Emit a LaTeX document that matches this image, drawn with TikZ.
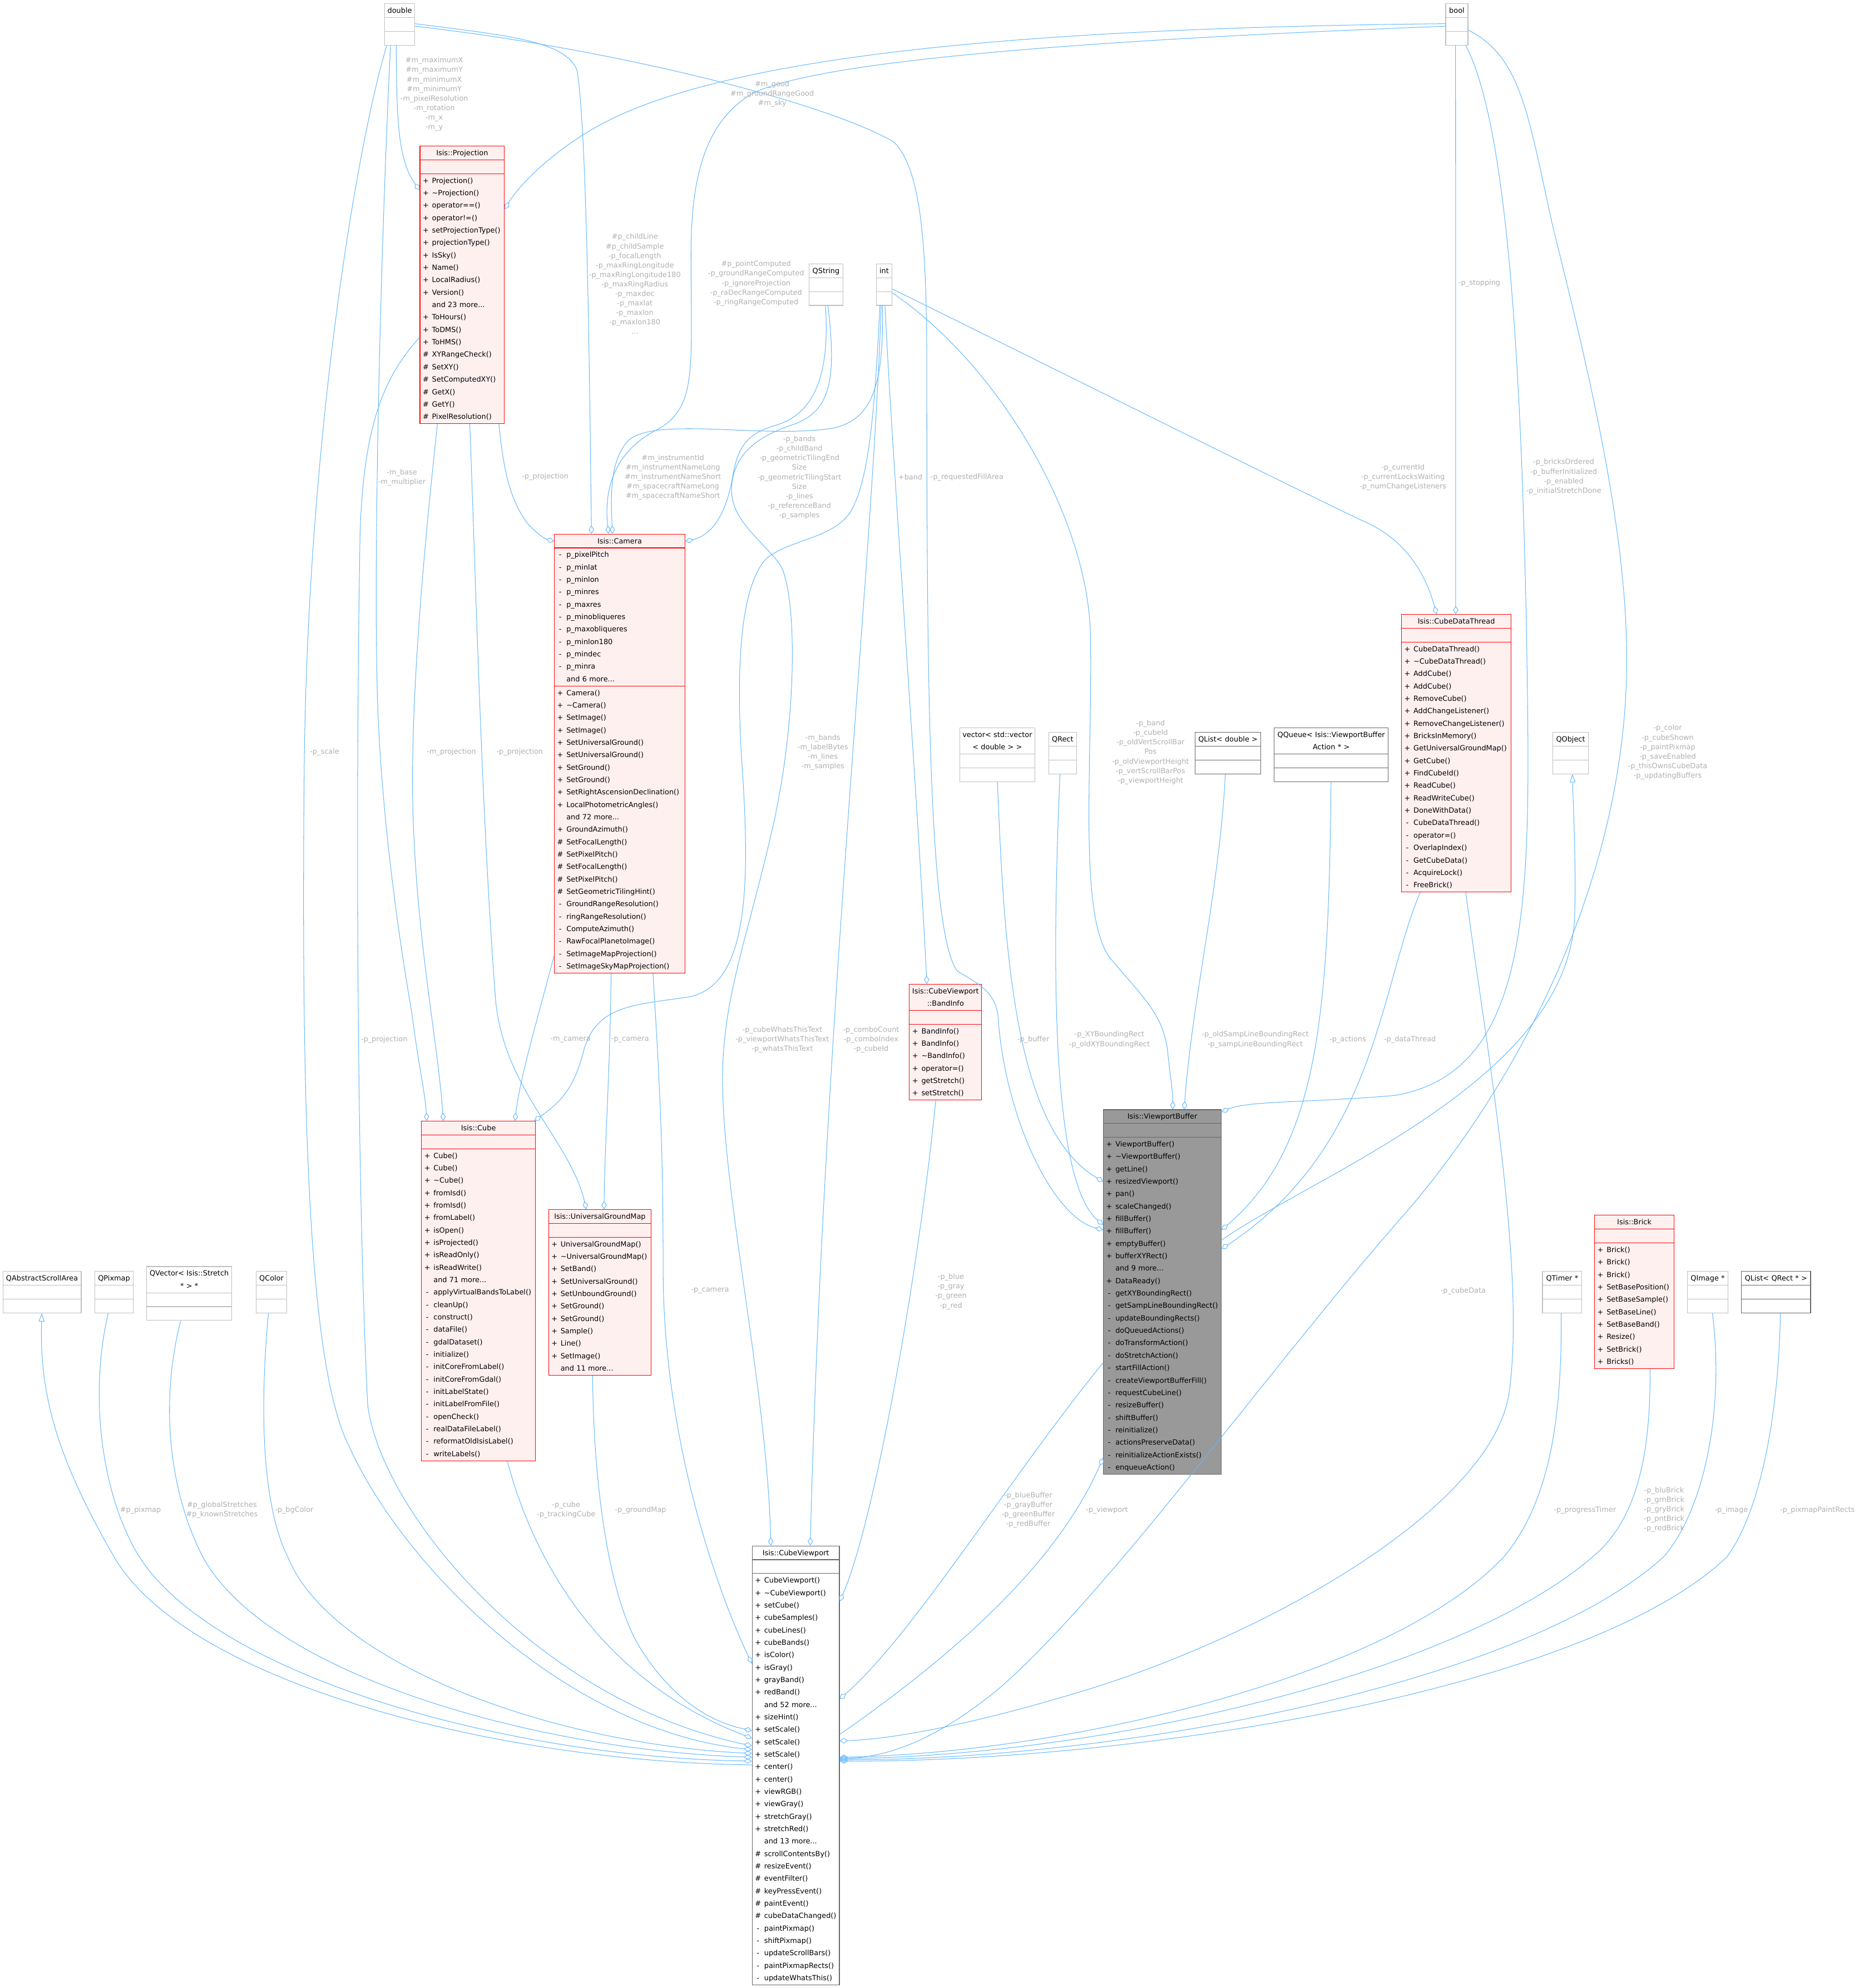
\documentclass[tikz,border=0pt]{standalone}
\usepackage{fontspec}
\setmainfont{DejaVu Sans}
\usetikzlibrary{shapes.multipart,arrows.meta,calc}

\definecolor{edgeblue}{HTML}{63B8FF}
\definecolor{labelgray}{HTML}{B0B0B0}
\definecolor{boxred}{HTML}{FF0000}
\definecolor{boxpink}{HTML}{FFF0F0}
\definecolor{focusfill}{HTML}{999999}
\definecolor{darkline}{HTML}{666666}
\definecolor{lightline}{HTML}{BFBFBF}

% one member line: visibility column, then the name
\newcommand{\umlrow}[2]{\strut\makebox[7.2pt][l]{\makebox[4.6pt]{#1}}#2}
% centred title line
\newcommand{\umltitle}[1]{\makebox[\linewidth]{\strut#1}}

\begin{document}
\begin{tikzpicture}[x=1pt, y=-1pt,
  umlbox/.style={rectangle split, rectangle split parts=3, draw, line width=0.5pt,
    align=left, inner xsep=2.3pt, inner ysep=0.3pt, anchor=north west,
    font=\fontsize{5.65}{9.8}\selectfont},
  cls/.style={umlbox, draw=boxred, fill=boxpink},
  focus/.style={umlbox, draw=darkline, fill=focusfill},
  plain/.style={umlbox, draw=lightline, fill=white},
  docd/.style={umlbox, draw=darkline, fill=white},
  agg/.style={draw=edgeblue, line width=0.45pt, -{Diamond[open, length=6.5pt, width=4.2pt]}},
  inh/.style={draw=edgeblue, line width=0.45pt, -{Triangle[open, length=6.5pt, width=4.6pt]}},
  elabel/.style={font=\fontsize{5.65}{7.5}\selectfont, text=labelgray, align=center, inner sep=0pt}
]
\useasboundingbox (0,0) rectangle (1466,1568);
\fill[white] (0,0) rectangle (1466,1568);

% plain types
\node[plain, text width=19.4pt] (double) at (303,2.7) {\umltitle{double}\nodepart{two}\strut\nodepart{three}\strut};
\node[plain, text width=12.9pt] (bool) at (1140,2.7) {\umltitle{bool}\nodepart{two}\strut\nodepart{three}\strut};
\node[plain, text width=21.9pt] (qstring) at (638,207.9) {\umltitle{QString}\nodepart{two}\strut\nodepart{three}\strut};
\node[plain, text width=7.6pt] (int) at (691,207.9) {\umltitle{int}\nodepart{two}\strut\nodepart{three}\strut};
\node[plain, text width=54.7pt] (vecvec) at (756.7,573.8) {\umltitle{vector<~std::vector}\\\umltitle{<~double~>~>}\nodepart{two}\strut\nodepart{three}\strut};
\node[plain, text width=17.1pt] (qrect) at (827,577.4) {\umltitle{QRect}\nodepart{two}\strut\nodepart{three}\strut};
\node[docd, text width=47.2pt] (qlistd) at (942.4,577.4) {\umltitle{QList<~double~>}\nodepart{two}\strut\nodepart{three}\strut};
\node[docd, text width=85.2pt] (qqueue) at (1004.8,573.8) {\umltitle{QQueue<~Isis::ViewportBuffer}\\\umltitle{Action~*~>}\nodepart{two}\strut\nodepart{three}\strut};
\node[plain, text width=23.2pt] (qobject) at (1224.6,577.4) {\umltitle{QObject}\nodepart{two}\strut\nodepart{three}\strut};
\node[plain, text width=57.2pt] (scrollarea) at (2,1002.6) {\umltitle{QAbstractScrollArea}\nodepart{two}\strut\nodepart{three}\strut};
\node[plain, text width=26pt] (qpixmap) at (74.4,1002.6) {\umltitle{QPixmap}\nodepart{two}\strut\nodepart{three}\strut};
\node[plain, text width=62.4pt] (qvector) at (115.5,998.7) {\umltitle{QVector<~Isis::Stretch}\\\umltitle{*~>~*}\nodepart{two}\strut\nodepart{three}\strut};
\node[plain, text width=19.7pt] (qcolor) at (201.7,1002.6) {\umltitle{QColor}\nodepart{two}\strut\nodepart{three}\strut};
\node[plain, text width=26.5pt] (qtimer) at (1216.3,1002.6) {\umltitle{QTimer~*}\nodepart{two}\strut\nodepart{three}\strut};
\node[plain, text width=27.5pt] (qimage) at (1330.6,1002.6) {\umltitle{QImage~*}\nodepart{two}\strut\nodepart{three}\strut};
\node[docd, text width=50pt] (qlistrect) at (1373.2,1002.6) {\umltitle{QList<~QRect~*~>}\nodepart{two}\strut\nodepart{three}\strut};

% classes
\node[cls, text width=62pt] (proj) at (331,115) {\umltitle{Isis::Projection}
  \nodepart{two}\strut
  \nodepart{three}\umlrow{+}{Projection()}\\
  \umlrow{+}{\textasciitilde Projection()}\\
  \umlrow{+}{operator==()}\\
  \umlrow{+}{operator!=()}\\
  \umlrow{+}{setProjectionType()}\\
  \umlrow{+}{projectionType()}\\
  \umlrow{+}{IsSky()}\\
  \umlrow{+}{Name()}\\
  \umlrow{+}{LocalRadius()}\\
  \umlrow{+}{Version()}\\
  \umlrow{}{and 23 more...}\\
  \umlrow{+}{ToHours()}\\
  \umlrow{+}{ToDMS()}\\
  \umlrow{+}{ToHMS()}\\
  \umlrow{\#}{XYRangeCheck()}\\
  \umlrow{\#}{SetXY()}\\
  \umlrow{\#}{SetComputedXY()}\\
  \umlrow{\#}{GetX()}\\
  \umlrow{\#}{GetY()}\\
  \umlrow{\#}{PixelResolution()}};

\node[cls, text width=98.4pt] (camera) at (437,421) {\umltitle{Isis::Camera}
  \nodepart{two}\umlrow{-}{p\_pixelPitch}\\
  \umlrow{-}{p\_minlat}\\
  \umlrow{-}{p\_minlon}\\
  \umlrow{-}{p\_minres}\\
  \umlrow{-}{p\_maxres}\\
  \umlrow{-}{p\_minobliqueres}\\
  \umlrow{-}{p\_maxobliqueres}\\
  \umlrow{-}{p\_minlon180}\\
  \umlrow{-}{p\_mindec}\\
  \umlrow{-}{p\_minra}\\
  \umlrow{}{and 6 more...}
  \nodepart{three}\umlrow{+}{Camera()}\\
  \umlrow{+}{\textasciitilde Camera()}\\
  \umlrow{+}{SetImage()}\\
  \umlrow{+}{SetImage()}\\
  \umlrow{+}{SetUniversalGround()}\\
  \umlrow{+}{SetUniversalGround()}\\
  \umlrow{+}{SetGround()}\\
  \umlrow{+}{SetGround()}\\
  \umlrow{+}{SetRightAscensionDeclination()}\\
  \umlrow{+}{LocalPhotometricAngles()}\\
  \umlrow{}{and 72 more...}\\
  \umlrow{+}{GroundAzimuth()}\\
  \umlrow{\#}{SetFocalLength()}\\
  \umlrow{\#}{SetPixelPitch()}\\
  \umlrow{\#}{SetFocalLength()}\\
  \umlrow{\#}{SetPixelPitch()}\\
  \umlrow{\#}{SetGeometricTilingHint()}\\
  \umlrow{-}{GroundRangeResolution()}\\
  \umlrow{-}{ringRangeResolution()}\\
  \umlrow{-}{ComputeAzimuth()}\\
  \umlrow{-}{RawFocalPlanetoImage()}\\
  \umlrow{-}{SetImageMapProjection()}\\
  \umlrow{-}{SetImageSkyMapProjection()}};

\node[cls, text width=82pt] (datathread) at (1105.1,484.4) {\umltitle{Isis::CubeDataThread}
  \nodepart{two}\strut
  \nodepart{three}\umlrow{+}{CubeDataThread()}\\
  \umlrow{+}{\textasciitilde CubeDataThread()}\\
  \umlrow{+}{AddCube()}\\
  \umlrow{+}{AddCube()}\\
  \umlrow{+}{RemoveCube()}\\
  \umlrow{+}{AddChangeListener()}\\
  \umlrow{+}{RemoveChangeListener()}\\
  \umlrow{+}{BricksInMemory()}\\
  \umlrow{+}{GetUniversalGroundMap()}\\
  \umlrow{+}{GetCube()}\\
  \umlrow{+}{FindCubeId()}\\
  \umlrow{+}{ReadCube()}\\
  \umlrow{+}{ReadWriteCube()}\\
  \umlrow{+}{DoneWithData()}\\
  \umlrow{-}{CubeDataThread()}\\
  \umlrow{-}{operator=()}\\
  \umlrow{-}{OverlapIndex()}\\
  \umlrow{-}{GetCubeData()}\\
  \umlrow{-}{AcquireLock()}\\
  \umlrow{-}{FreeBrick()}};

\node[cls, text width=52.4pt] (bandinfo) at (717,776) {\umltitle{Isis::CubeViewport}\\\umltitle{::BandInfo}
  \nodepart{two}\strut
  \nodepart{three}\umlrow{+}{BandInfo()}\\
  \umlrow{+}{BandInfo()}\\
  \umlrow{+}{\textasciitilde BandInfo()}\\
  \umlrow{+}{operator=()}\\
  \umlrow{+}{getStretch()}\\
  \umlrow{+}{setStretch()}};

\node[focus, text width=88.4pt] (vpbuffer) at (870,875) {\umltitle{Isis::ViewportBuffer}
  \nodepart{two}\strut
  \nodepart{three}\umlrow{+}{ViewportBuffer()}\\
  \umlrow{+}{\textasciitilde ViewportBuffer()}\\
  \umlrow{+}{getLine()}\\
  \umlrow{+}{resizedViewport()}\\
  \umlrow{+}{pan()}\\
  \umlrow{+}{scaleChanged()}\\
  \umlrow{+}{fillBuffer()}\\
  \umlrow{+}{fillBuffer()}\\
  \umlrow{+}{emptyBuffer()}\\
  \umlrow{+}{bufferXYRect()}\\
  \umlrow{}{and 9 more...}\\
  \umlrow{+}{DataReady()}\\
  \umlrow{-}{getXYBoundingRect()}\\
  \umlrow{-}{getSampLineBoundingRect()}\\
  \umlrow{-}{updateBoundingRects()}\\
  \umlrow{-}{doQueuedActions()}\\
  \umlrow{-}{doTransformAction()}\\
  \umlrow{-}{doStretchAction()}\\
  \umlrow{-}{startFillAction()}\\
  \umlrow{-}{createViewportBufferFill()}\\
  \umlrow{-}{requestCubeLine()}\\
  \umlrow{-}{resizeBuffer()}\\
  \umlrow{-}{shiftBuffer()}\\
  \umlrow{-}{reinitialize()}\\
  \umlrow{-}{actionsPreserveData()}\\
  \umlrow{-}{reinitializeActionExists()}\\
  \umlrow{-}{enqueueAction()}};

\node[cls, text width=85.2pt] (cube) at (332.2,884) {\umltitle{Isis::Cube}
  \nodepart{two}\strut
  \nodepart{three}\umlrow{+}{Cube()}\\
  \umlrow{+}{Cube()}\\
  \umlrow{+}{\textasciitilde Cube()}\\
  \umlrow{+}{fromIsd()}\\
  \umlrow{+}{fromIsd()}\\
  \umlrow{+}{fromLabel()}\\
  \umlrow{+}{isOpen()}\\
  \umlrow{+}{isProjected()}\\
  \umlrow{+}{isReadOnly()}\\
  \umlrow{+}{isReadWrite()}\\
  \umlrow{}{and 71 more...}\\
  \umlrow{-}{applyVirtualBandsToLabel()}\\
  \umlrow{-}{cleanUp()}\\
  \umlrow{-}{construct()}\\
  \umlrow{-}{dataFile()}\\
  \umlrow{-}{gdalDataset()}\\
  \umlrow{-}{initialize()}\\
  \umlrow{-}{initCoreFromLabel()}\\
  \umlrow{-}{initCoreFromGdal()}\\
  \umlrow{-}{initLabelState()}\\
  \umlrow{-}{initLabelFromFile()}\\
  \umlrow{-}{openCheck()}\\
  \umlrow{-}{realDataFileLabel()}\\
  \umlrow{-}{reformatOldIsisLabel()}\\
  \umlrow{-}{writeLabels()}};

\node[cls, text width=76.4pt] (ugm) at (432.4,953.8) {\umltitle{Isis::UniversalGroundMap}
  \nodepart{two}\strut
  \nodepart{three}\umlrow{+}{UniversalGroundMap()}\\
  \umlrow{+}{\textasciitilde UniversalGroundMap()}\\
  \umlrow{+}{SetBand()}\\
  \umlrow{+}{SetUniversalGround()}\\
  \umlrow{+}{SetUnboundGround()}\\
  \umlrow{+}{SetGround()}\\
  \umlrow{+}{SetGround()}\\
  \umlrow{+}{Sample()}\\
  \umlrow{+}{Line()}\\
  \umlrow{+}{SetImage()}\\
  \umlrow{}{and 11 more...}};

\node[cls, text width=58.1pt] (brick) at (1257.4,958.3) {\umltitle{Isis::Brick}
  \nodepart{two}\strut
  \nodepart{three}\umlrow{+}{Brick()}\\
  \umlrow{+}{Brick()}\\
  \umlrow{+}{Brick()}\\
  \umlrow{+}{SetBasePosition()}\\
  \umlrow{+}{SetBaseSample()}\\
  \umlrow{+}{SetBaseLine()}\\
  \umlrow{+}{SetBaseBand()}\\
  \umlrow{+}{Resize()}\\
  \umlrow{+}{SetBrick()}\\
  \umlrow{+}{Bricks()}};

\node[docd, text width=64.2pt] (viewport) at (593,1219) {\umltitle{Isis::CubeViewport}
  \nodepart{two}\strut
  \nodepart{three}\umlrow{+}{CubeViewport()}\\
  \umlrow{+}{\textasciitilde CubeViewport()}\\
  \umlrow{+}{setCube()}\\
  \umlrow{+}{cubeSamples()}\\
  \umlrow{+}{cubeLines()}\\
  \umlrow{+}{cubeBands()}\\
  \umlrow{+}{isColor()}\\
  \umlrow{+}{isGray()}\\
  \umlrow{+}{grayBand()}\\
  \umlrow{+}{redBand()}\\
  \umlrow{}{and 52 more...}\\
  \umlrow{+}{sizeHint()}\\
  \umlrow{+}{setScale()}\\
  \umlrow{+}{setScale()}\\
  \umlrow{+}{setScale()}\\
  \umlrow{+}{center()}\\
  \umlrow{+}{center()}\\
  \umlrow{+}{viewRGB()}\\
  \umlrow{+}{viewGray()}\\
  \umlrow{+}{stretchGray()}\\
  \umlrow{+}{stretchRed()}\\
  \umlrow{}{and 13 more...}\\
  \umlrow{\#}{scrollContentsBy()}\\
  \umlrow{\#}{resizeEvent()}\\
  \umlrow{\#}{eventFilter()}\\
  \umlrow{\#}{keyPressEvent()}\\
  \umlrow{\#}{paintEvent()}\\
  \umlrow{\#}{cubeDataChanged()}\\
  \umlrow{-}{paintPixmap()}\\
  \umlrow{-}{shiftPixmap()}\\
  \umlrow{-}{updateScrollBars()}\\
  \umlrow{-}{paintPixmapRects()}\\
  \umlrow{-}{updateWhatsThis()}};

% edges from double
\draw[agg] ($(double.south west)+(9.5,0)$) .. controls (313,90) and (313,125) .. ($(proj.north west)+(0,35)$);
\draw[agg] ($(double.north east)+(0,16)$) .. controls (400,28) and (445,32) .. (455,55) .. controls (463,100) and (465,300) .. ($(camera.north west)+(29.5,0)$);
\draw[agg] ($(double.north east)+(0,18)$) .. controls (480,38) and (650,80) .. (705,112) .. controls (728,135) and (731,200) .. (731,300) .. controls (731,550) and (733,735) .. (755,766) .. controls (772,776) and (784,782) .. (787,800) .. controls (792,880) and (830,960) .. ($(vpbuffer.north west)+(0,95)$);
\draw[agg] ($(double.south west)+(5,0)$) .. controls (300,200) and (294,450) .. (298,560) .. controls (302,660) and (318,760) .. (325,800) .. controls (330,840) and (335,860) .. ($(cube.north west)+(4.5,0)$);
\draw[agg] ($(double.south west)+(2,0)$) .. controls (280,120) and (243,350) .. (240,600) .. controls (237,900) and (245,1080) .. (275,1140) .. controls (320,1240) and (450,1365) .. ($(viewport.north west)+(0,161)$);

% edges from Isis::Projection
\draw[agg] ($(proj.south west)+(62.5,0)$) .. controls (397,370) and (402,395) .. (417,414) .. controls (425,422) and (430,425) .. ($(camera.north west)+(0,6)$);
\draw[agg] ($(proj.south west)+(14,0)$) .. controls (338,400) and (322,550) .. (326,650) .. controls (330,750) and (345,820) .. ($(cube.north west)+(17.5,0)$);
\draw[agg] ($(proj.south west)+(39.5,0)$) .. controls (375,450) and (380,650) .. (391,790) .. controls (398,860) and (450,900) .. ($(ugm.north west)+(30,0)$);
\draw[agg] ($(proj.north west)+(0,151)$) .. controls (305,295) and (287,330) .. (284,420) .. controls (280,650) and (282,950) .. (290,1108) .. controls (300,1190) and (420,1340) .. ($(viewport.north west)+(0,158)$);

% edges from bool
\draw[agg] ($(bool.north west)+(0,16)$) .. controls (800,22) and (580,45) .. (480,95) .. controls (440,115) and (410,145) .. ($(proj.north east)+(0,50)$);
\draw[agg] ($(bool.north west)+(0,18)$) .. controls (900,30) and (650,45) .. (593,74) .. controls (556,96) and (545,140) .. (545,200) .. controls (545,290) and (550,320) .. (520,338) .. controls (485,355) and (476,385) .. ($(camera.north west)+(43,0)$);
\draw[agg] ($(bool.south west)+(8,0)$) -- ($(datathread.north west)+(43,0)$);
\draw[agg] ($(bool.south east)+(-2,0)$) .. controls (1190,100) and (1200,300) .. (1204,500) .. controls (1207,700) and (1212,845) .. (1100,864) .. controls (1030,870) and (985,868) .. ($(vpbuffer.north east)+(0,2)$);
\draw[agg] ($(bool.north east)+(0,21)$) .. controls (1200,45) and (1205,90) .. (1225,180) .. controls (1255,300) and (1283,420) .. (1283,520) .. controls (1283,690) and (1200,850) .. (1110,955) .. controls (1000,1080) and (880,1250) .. (790,1330) .. controls (740,1372) and (700,1386) .. ($(viewport.north east)+(0,168)$);

% edges from QString and int
\draw[agg] ($(qstring.south west)+(13,0)$) .. controls (655,300) and (640,328) .. (610,336) .. controls (590,342) and (582,352) .. (578,375) .. controls (573,405) and (562,422) .. ($(camera.north east)+(0,6)$);
\draw[agg] ($(qstring.south west)+(15,0)$) .. controls (660,300) and (655,325) .. (625,335) .. controls (595,345) and (578,360) .. (577,385) .. controls (576,410) and (600,425) .. (615,445) .. controls (628,465) and (630,560) .. (610,650) .. controls (590,740) and (568,790) .. (570,860) .. controls (572,950) and (605,1100) .. ($(viewport.north west)+(15,0)$);
\draw[agg] ($(int.south west)+(5,0)$) .. controls (697,300) and (690,332) .. (655,338) .. controls (600,346) and (515,328) .. (495,348) .. controls (480,365) and (482,395) .. ($(camera.north west)+(46,0)$);
\draw[agg] ($(int.south west)+(3,0)$) .. controls (690,320) and (686,380) .. (670,405) .. controls (655,425) and (625,425) .. (605,440) .. controls (585,460) and (580,520) .. (585,600) .. controls (592,700) and (590,775) .. (545,786) .. controls (500,793) and (470,792) .. (460,830) .. controls (452,862) and (438,872) .. ($(cube.north east)+(-1,0)$);
\draw[agg] ($(int.south west)+(4,0)$) .. controls (688,450) and (650,800) .. ($(viewport.north west)+(46,0)$);
\draw[agg] ($(int.south west)+(7,0)$) .. controls (703,350) and (725,650) .. ($(bandinfo.north west)+(14,0)$);
\draw[agg] ($(int.north east)+(0,20)$) .. controls (850,300) and (1000,375) .. (1073,410) .. controls (1110,425) and (1125,455) .. ($(datathread.north west)+(28,0)$);
\draw[agg] ($(int.north east)+(0,23)$) .. controls (790,290) and (858,410) .. (860,500) .. controls (862,600) and (850,720) .. (875,755) .. controls (900,785) and (918,800) .. (921,830) .. controls (923,850) and (925,860) .. ($(vpbuffer.north west)+(55,0)$);

% into Isis::ViewportBuffer
\draw[agg] ($(qlistd.south west)+(24,0)$) .. controls (962,700) and (940,790) .. ($(vpbuffer.north west)+(64,0)$);
\draw[agg] ($(vecvec.south west)+(30,0)$) .. controls (792,750) and (800,890) .. ($(vpbuffer.north west)+(0,57)$);
\draw[agg] ($(qrect.south west)+(9,0)$) .. controls (830,750) and (828,930) .. ($(vpbuffer.north west)+(0,91)$);
\draw[agg] ($(qqueue.south west)+(45,0)$) .. controls (1048,800) and (1040,905) .. ($(vpbuffer.north east)+(0,95)$);
\draw[agg] ($(datathread.south west)+(15,0)$) .. controls (1088,780) and (1085,905) .. ($(vpbuffer.north east)+(0,110)$);
\draw[inh] ($(vpbuffer.north east)+(0,103)$) .. controls (1040,925) and (1240,850) .. (1242,720) .. controls (1243,680) and (1241,640) .. ($(qobject.south west)+(15.5,0)$);
\draw[agg] ($(viewport.north east)+(0,149)$) .. controls (760,1300) and (835,1230) .. ($(vpbuffer.north west)+(0,275)$);

% into Isis::CubeViewport, right side
\draw[agg] ($(bandinfo.south west)+(21,0)$) .. controls (725,1000) and (690,1200) .. ($(viewport.north east)+(0,44)$);
\draw[agg] ($(vpbuffer.north west)+(0,200)$) .. controls (800,1160) and (720,1290) .. ($(viewport.north east)+(0,121)$);
\draw[agg] ($(datathread.south west)+(51,0)$) .. controls (1168,800) and (1205,1000) .. (1190,1100) .. controls (1175,1190) and (1000,1290) .. (850,1335) .. controls (760,1362) and (700,1372) .. ($(viewport.north east)+(0,154)$);
\draw[agg] ($(qtimer.south west)+(15,0)$) .. controls (1232,1120) and (1222,1185) .. (1186,1228) .. controls (1100,1320) and (850,1382) .. ($(viewport.north east)+(0,167)$);
\draw[agg] ($(brick.south west)+(44,0)$) .. controls (1302,1150) and (1290,1200) .. (1256,1228) .. controls (1150,1320) and (870,1385) .. ($(viewport.north east)+(0,168)$);
\draw[agg] ($(qimage.south west)+(20,0)$) .. controls (1360,1110) and (1345,1190) .. (1312,1228) .. controls (1200,1330) and (880,1388) .. ($(viewport.north east)+(0,169)$);
\draw[agg] ($(qlistrect.south west)+(31,0)$) .. controls (1403,1110) and (1390,1190) .. (1362,1228) .. controls (1250,1335) and (890,1390) .. ($(viewport.north east)+(0,170)$);

% into Isis::CubeViewport, left side
\draw[inh] ($(viewport.north west)+(0,173)$) .. controls (400,1390) and (150,1330) .. (90,1228) .. controls (45,1150) and (31,1100) .. ($(scrollarea.south west)+(31,0)$);
\draw[agg] ($(qpixmap.south west)+(11,0)$) .. controls (70,1100) and (80,1180) .. (110,1228) .. controls (170,1322) and (400,1386) .. ($(viewport.north west)+(0,170)$);
\draw[agg] ($(qvector.south west)+(27,0)$) .. controls (125,1110) and (135,1180) .. (160,1228) .. controls (210,1320) and (420,1380) .. ($(viewport.north west)+(0,167)$);
\draw[agg] ($(qcolor.south west)+(10,0)$) .. controls (204,1120) and (208,1190) .. (227,1228) .. controls (260,1310) and (430,1375) .. ($(viewport.north west)+(0,164)$);
\draw[agg] ($(cube.south west)+(68,0)$) .. controls (415,1210) and (460,1320) .. ($(viewport.north west)+(0,152)$);
\draw[agg] ($(ugm.south west)+(35,0)$) .. controls (468,1170) and (480,1260) .. (505,1300) .. controls (530,1340) and (560,1358) .. ($(viewport.north west)+(0,146)$);
\draw[agg] ($(camera.south west)+(78,0)$) .. controls (520,850) and (523,900) .. (523,1000) .. controls (523,1150) and (575,1275) .. ($(viewport.north west)+(0,93)$);
\draw[agg] ($(camera.south west)+(0,-14)$) .. controls (425,800) and (410,850) .. ($(cube.north west)+(74,0)$);
\draw[agg] ($(camera.south west)+(45,0)$) .. controls (481,850) and (477,900) .. ($(ugm.north west)+(44,0)$);

% edge labels
\node[elabel] (l-mmax) at (342.5,74.3) {\#m\_maximumX\\\#m\_maximumY\\\#m\_minimumX\\\#m\_minimumY\\-m\_pixelResolution\\-m\_rotation\\-m\_x\\-m\_y};
\node[elabel] (l-mgood) at (609,74.2) {\#m\_good\\\#m\_groundRangeGood\\\#m\_sky};
\node[elabel] (l-child) at (500.7,224) {\#p\_childLine\\\#p\_childSample\\-p\_focalLength\\-p\_maxRingLongitude\\-p\_maxRingLongitude180\\-p\_maxRingRadius\\-p\_maxdec\\-p\_maxlat\\-p\_maxlon\\-p\_maxlon180\\...};
\node[elabel] (l-point) at (596.3,223.6) {\#p\_pointComputed\\-p\_groundRangeComputed\\-p\_ignoreProjection\\-p\_raDecRangeComputed\\-p\_ringRangeComputed};
\node[elabel] (l-stopping) at (1166.8,223.5) {-p\_stopping};
\node[elabel] (l-mbase) at (317,376.5) {-m\_base\\-m\_multiplier};
\node[elabel] (l-pproj1) at (430,376) {-p\_projection};
\node[elabel] (l-instr) at (530.7,376.5) {\#m\_instrumentId\\\#m\_instrumentNameLong\\\#m\_instrumentNameShort\\\#m\_spacecraftNameLong\\\#m\_spacecraftNameShort};
\node[elabel] (l-pbands) at (630.5,376.7) {-p\_bands\\-p\_childBand\\-p\_geometricTilingEnd\\Size\\-p\_geometricTilingStart\\Size\\-p\_lines\\-p\_referenceBand\\-p\_samples};
\node[elabel] (l-band) at (718,376.3) {+band};
\node[elabel] (l-reqfill) at (762.7,376.3) {-p\_requestedFillArea};
\node[elabel] (l-curid) at (1106.5,376.3) {-p\_currentId\\-p\_currentLocksWaiting\\-p\_numChangeListeners};
\node[elabel] (l-bricksord) at (1233.3,376.1) {-p\_bricksOrdered\\-p\_bufferInitialized\\-p\_enabled\\-p\_initialStretchDone};
\node[elabel] (l-pscale) at (256,593) {-p\_scale};
\node[elabel] (l-mproj) at (356,593.2) {-m\_projection};
\node[elabel] (l-pproj2) at (409.9,593.2) {-p\_projection};
\node[elabel] (l-mbands) at (649,593.5) {-m\_bands\\-m\_labelBytes\\-m\_lines\\-m\_samples};
\node[elabel] (l-pband) at (907.4,593.4) {-p\_band\\-p\_cubeId\\-p\_oldVertScrollBar\\Pos\\-p\_oldViewportHeight\\-p\_vertScrollBarPos\\-p\_viewportHeight};
\node[elabel] (l-pcolor) at (1315.3,593.3) {-p\_color\\-p\_cubeShown\\-p\_paintPixmap\\-p\_saveEnabled\\-p\_thisOwnsCubeData\\-p\_updatingBuffers};
\node[elabel] (l-pproj3) at (303,820) {-p\_projection};
\node[elabel] (l-mcamera) at (450,820) {-m\_camera};
\node[elabel] (l-pcamera1) at (497,820) {-p\_camera};
\node[elabel] (l-whats) at (617,820) {-p\_cubeWhatsThisText\\-p\_viewportWhatsThisText\\-p\_whatsThisText};
\node[elabel] (l-combo) at (687,820) {-p\_comboCount\\-p\_comboIndex\\-p\_cubeId};
\node[elabel] (l-buffer) at (815,820) {-p\_buffer};
\node[elabel] (l-xyrect) at (875,820) {-p\_XYBoundingRect\\-p\_oldXYBoundingRect};
\node[elabel] (l-samprect) at (990,820) {-p\_oldSampLineBoundingRect\\-p\_sampLineBoundingRect};
\node[elabel] (l-actions) at (1063,820) {-p\_actions};
\node[elabel] (l-dthread) at (1112,820) {-p\_dataThread};
\node[elabel] (l-pcamera2) at (560,1018) {-p\_camera};
\node[elabel] (l-pblue) at (750,1018.7) {-p\_blue\\-p\_gray\\-p\_green\\-p\_red};
\node[elabel] (l-cubedata) at (1154,1018.4) {-p\_cubeData};
\node[elabel] (l-pixmap) at (110.8,1191) {\#p\_pixmap};
\node[elabel] (l-stretch) at (175,1191) {\#p\_globalStretches\\\#p\_knownStretches};
\node[elabel] (l-bgcolor) at (232,1191) {-p\_bgColor};
\node[elabel] (l-pcube) at (446.5,1191) {-p\_cube\\-p\_trackingCube};
\node[elabel] (l-gmap) at (505.2,1191) {-p\_groundMap};
\node[elabel] (l-bluebuf) at (811,1191) {-p\_blueBuffer\\-p\_grayBuffer\\-p\_greenBuffer\\-p\_redBuffer};
\node[elabel] (l-pviewport) at (873,1191) {-p\_viewport};
\node[elabel] (l-timer) at (1250,1191) {-p\_progressTimer};
\node[elabel] (l-bricks) at (1312.5,1190.7) {-p\_bluBrick\\-p\_grnBrick\\-p\_gryBrick\\-p\_pntBrick\\-p\_redBrick};
\node[elabel] (l-image) at (1365.5,1191) {-p\_image};
\node[elabel] (l-rects) at (1433.4,1191) {-p\_pixmapPaintRects};
\end{tikzpicture}
\end{document}
